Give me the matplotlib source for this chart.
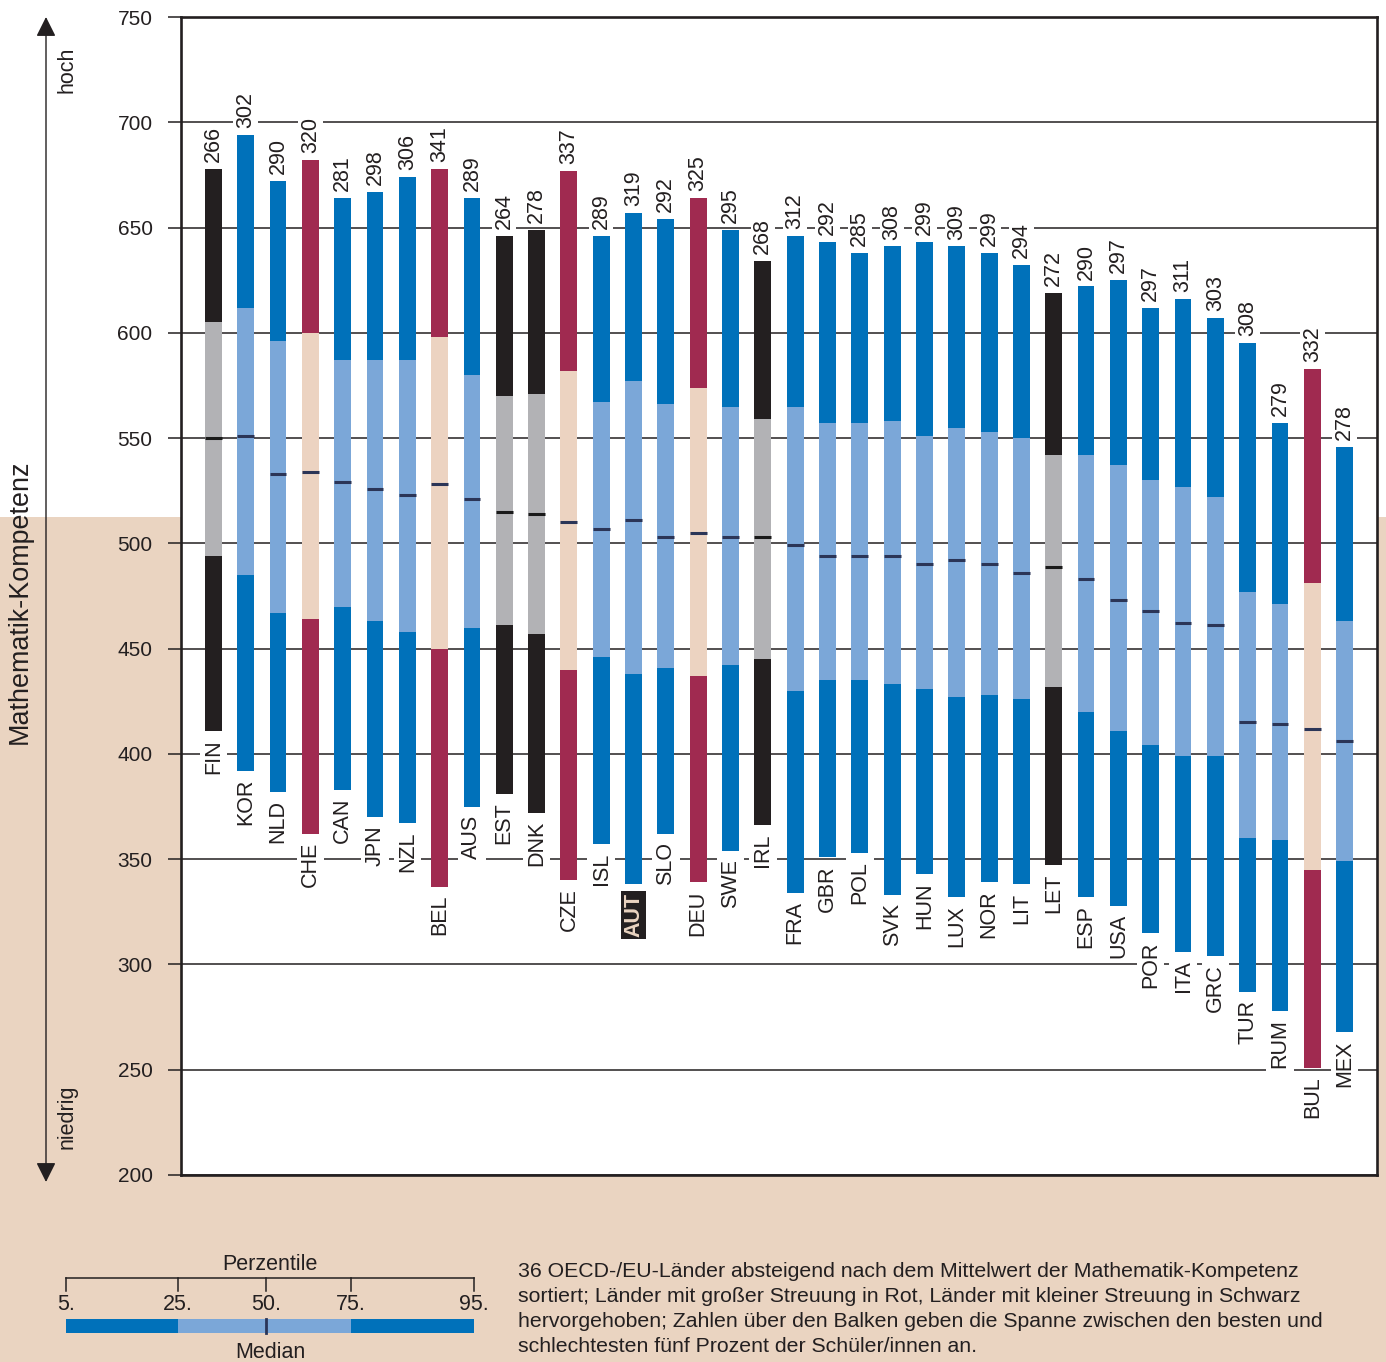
import numpy as np
import matplotlib
matplotlib.use("Agg")
import matplotlib.pyplot as plt
from matplotlib.patches import Rectangle, FancyArrowPatch

plt.rcParams['font.family'] = ['Liberation Sans', 'DejaVu Sans']

# Data: percentiles 5 / 25 / 50 / 75 / 95
countries = ['FIN', 'KOR', 'NLD', 'CHE', 'CAN', 'JPN', 'NZL', 'BEL', 'AUS', 'EST', 'DNK', 'CZE',
             'ISL', 'AUT', 'SLO', 'DEU', 'SWE', 'IRL', 'FRA', 'GBR', 'POL', 'SVK', 'HUN', 'LUX',
             'NOR', 'LIT', 'LET', 'ESP', 'USA', 'POR', 'ITA', 'GRC', 'TUR', 'RUM', 'BUL', 'MEX']
p95 = [678, 694, 672, 682, 664, 667, 674, 678, 664, 646, 649, 677, 646, 657, 654, 664, 649, 634,
       646, 643, 638, 641, 643, 641, 638, 632, 619, 622, 625, 612, 616, 607, 595, 557, 583, 546]
p75 = [605, 612, 596, 600, 587, 587, 587, 598, 580, 570, 571, 582, 567, 577, 566, 574, 565, 559,
       565, 557, 557, 558, 551, 555, 553, 550, 542, 542, 537, 530, 527, 522, 477, 471, 481, 463]
p50 = [550, 551, 533, 534, 529, 526, 523, 528, 521, 515, 514, 510, 507, 511, 503, 505, 503, 503,
       499, 494, 494, 494, 490, 492, 490, 486, 489, 483, 473, 468, 462, 461, 415, 414, 412, 406]
p25 = [494, 485, 467, 464, 470, 463, 458, 450, 460, 461, 457, 440, 446, 438, 441, 437, 442, 445,
       430, 435, 435, 433, 431, 427, 428, 426, 432, 420, 411, 404, 399, 399, 360, 359, 345, 349]
p5 = [411, 392, 382, 362, 383, 370, 367, 337, 375, 381, 372, 340, 357, 338, 362, 339, 354, 366,
      334, 351, 353, 333, 343, 332, 339, 338, 347, 332, 328, 315, 306, 304, 287, 278, 251, 268]
spans = [266, 302, 290, 320, 281, 298, 306, 341, 289, 264, 278, 337, 289, 319, 292, 325, 295, 268,
         312, 292, 285, 308, 299, 309, 299, 294, 272, 290, 297, 297, 311, 303, 308, 279, 332, 278]
red_countries = ['CHE', 'BEL', 'CZE', 'DEU', 'BUL']
black_countries = ['FIN', 'EST', 'DNK', 'IRL', 'LET']
highlight = 'AUT'

# Colours
text_c = '#231F20'
beige = '#EAD4C1'
styles = {
    'blue': ('#0071BA', '#7BA7D8', '#2B3557'),
    'red': ('#A02A50', '#ECD3C1', '#2B3557'),
    'black': ('#231F20', '#B2B2B5', '#1A1A1A'),
}
fs = 15.5

fig = plt.figure(figsize=(13.86, 13.62), dpi=100)

# background layer in pixel coordinates (beige lower part, arrow, notes, legend)
bg = fig.add_axes([0, 0, 1, 1], zorder=-1)
bg.set_xlim(0, 1386)
bg.set_ylim(1362, 0)
bg.axis('off')
bg.add_patch(Rectangle((0, 517), 1386, 845, color=beige, lw=0))

ax = fig.add_axes([181 / 1386, 1 - 1175 / 1362, 1196 / 1386, 1158 / 1362])
ax.set_facecolor('white')

x = np.arange(len(countries))
w = 0.52
for i, c in enumerate(countries):
    key = 'red' if c in red_countries else ('black' if c in black_countries else 'blue')
    outer, inner, med = styles[key]
    ax.bar(x[i], p25[i] - p5[i], bottom=p5[i], width=w, color=outer, zorder=2)
    ax.bar(x[i], p75[i] - p25[i], bottom=p25[i], width=w, color=inner, zorder=2)
    ax.bar(x[i], p95[i] - p75[i], bottom=p75[i], width=w, color=outer, zorder=2)
    ax.hlines(p50[i], x[i] - w / 2, x[i] + w / 2, color=med, lw=2.2, zorder=3)
    ax.annotate(str(spans[i]), (x[i], p95[i]), xytext=(0, 5), textcoords='offset points',
                rotation=90, ha='center', va='bottom', fontsize=fs, color=text_c, zorder=4,
                bbox=dict(boxstyle='square,pad=0.08', fc='white', ec='none'))
    if c == highlight:
        ax.annotate(c, (x[i], p5[i]), xytext=(0, -6), textcoords='offset points',
                    rotation=90, ha='center', va='top', fontsize=fs, color=beige,
                    fontweight='bold', zorder=4,
                    bbox=dict(boxstyle='square,pad=0.1', fc=text_c, ec='none'))
    else:
        ax.annotate(c, (x[i], p5[i]), xytext=(0, -6), textcoords='offset points',
                    rotation=90, ha='center', va='top', fontsize=fs, color=text_c, zorder=4,
                    bbox=dict(boxstyle='square,pad=0.15', fc='white', ec='none'))

ax.set_xlim(-1, 36)
ax.set_ylim(200, 750)
ax.set_yticks(range(200, 751, 50))
ax.set_xticks([])
ax.yaxis.grid(True, color=text_c, lw=1.1)
ax.set_axisbelow(True)
ax.tick_params(axis='y', length=9.5, width=1.1, color=text_c, pad=11,
               labelsize=15, labelcolor=text_c)
for s in ax.spines.values():
    s.set_color(text_c)
    s.set_linewidth(1.9)

# y-axis description with double arrow
bg.add_patch(FancyArrowPatch((46, 17), (46, 1182), arrowstyle='<|-|>,head_length=0.6,head_width=0.3',
                             mutation_scale=20, color=text_c, lw=1.0, shrinkA=0, shrinkB=0))
bg.text(20, 602, 'Mathematik-Kompetenz', rotation=90, ha='center', va='center',
        fontsize=19.4, color=text_c)
bg.text(67, 70, 'hoch', rotation=90, ha='center', va='center', fontsize=fs, color=text_c)
bg.text(67, 1117, 'niedrig', rotation=90, ha='center', va='center', fontsize=fs, color=text_c)

# legend
leg_pct = ['5.', '25.', '50.', '75.', '95.']
leg_x = [66, 178, 266, 351, 474]
bg.plot([leg_x[0], leg_x[-1]], [1278, 1278], color=text_c, lw=1.1)
for lx, lab in zip(leg_x, leg_pct):
    bg.plot([lx, lx], [1278, 1291], color=text_c, lw=1.1)
    bg.text(lx, 1304, lab, ha='center', va='center', fontsize=fs, color=text_c)
bg.text(270, 1265, 'Perzentile', ha='center', va='center', fontsize=fs, color=text_c)
bg.add_patch(Rectangle((leg_x[0], 1319), leg_x[1] - leg_x[0], 14, color=styles['blue'][0], lw=0))
bg.add_patch(Rectangle((leg_x[1], 1319), leg_x[3] - leg_x[1], 14, color=styles['blue'][1], lw=0))
bg.add_patch(Rectangle((leg_x[3], 1319), leg_x[4] - leg_x[3], 14, color=styles['blue'][0], lw=0))
bg.plot([leg_x[2], leg_x[2]], [1319, 1333], color=styles['blue'][2], lw=2)
bg.text(270, 1352, 'Median', ha='center', va='center', fontsize=fs, color=text_c)

note = ('36 OECD-/EU-Länder absteigend nach dem Mittelwert der Mathematik-Kompetenz\n'
        'sortiert; Länder mit großer Streuung in Rot, Länder mit kleiner Streuung in Schwarz\n'
        'hervorgehoben; Zahlen über den Balken geben die Spanne zwischen den besten und\n'
        'schlechtesten fünf Prozent der Schüler/innen an.')
bg.text(518, 1309, note, ha='left', va='center', fontsize=15.3, color=text_c, linespacing=1.4)

fig.savefig('out.png', dpi=100)
